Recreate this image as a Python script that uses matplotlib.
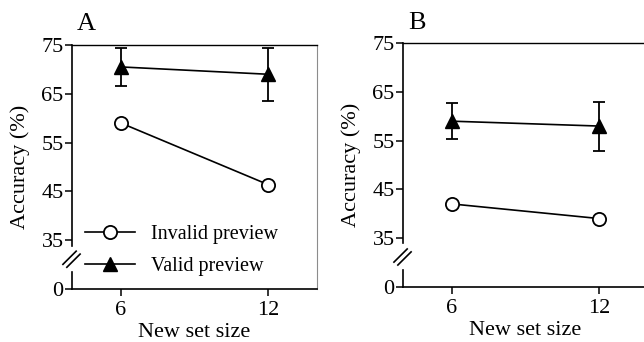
import numpy as np
import matplotlib
matplotlib.use('Agg')
import matplotlib.pyplot as plt

plt.rcParams['font.family'] = ['Liberation Serif', 'DejaVu Serif']

# Данные
set_size = [6, 12]
labels = ['Invalid preview', 'Valid preview']

a_invalid = [59.0, 46.4]
a_valid = [70.5, 69.0]
a_valid_lo = [66.5, 63.5]
a_valid_hi = [74.4, 74.4]

b_invalid = [42.0, 39.0]
b_valid = [59.0, 58.0]
b_valid_lo = [55.4, 52.9]
b_valid_hi = [62.7, 63.0]

ytick_vals = [0, 35, 45, 55, 65, 75]


# ось Y с разрывом: 0..35 сжато в 25..35
def fwd(y):
    y = np.asarray(y, dtype=float)
    return np.where(y >= 35, y, 25 + y * 10 / 35)


def inv(v):
    v = np.asarray(v, dtype=float)
    return np.where(v >= 35, v, (v - 25) * 3.5)


def panel(ax, letter, inval, val, lo, hi, legend=False, right_col='0.55'):
    ax.set_yscale('function', functions=(fwd, inv))
    ax.set_ylim(0, 75)
    ax.set_xlim(4, 14)
    err = [np.array(val) - np.array(lo), np.array(hi) - np.array(val)]
    ax.plot(set_size, inval, '-o', color='k', lw=1.2, ms=9.5,
            mfc='white', mec='k', mew=1.3, label=labels[0], zorder=3)
    ax.errorbar(set_size, val, yerr=err, fmt='none', ecolor='k',
                capsize=4, elinewidth=1.3, capthick=1.3, zorder=2)
    ax.plot(set_size, val, '-^', color='k', lw=1.2, ms=10, label=labels[1], zorder=3)
    ax.set_xticks(set_size)
    ax.set_yticks(ytick_vals)
    ax.set_yticklabels([str(v) for v in ytick_vals])
    ax.tick_params(axis='both', direction='out', length=5, width=1.1,
                   labelsize=16, pad=1)
    ax.tick_params(axis='x', pad=4)
    ax.set_xlabel('New set size', fontsize=16, labelpad=2)
    ax.set_ylabel('Accuracy (%)', fontsize=16, labelpad=8)
    ax.spines['left'].set_visible(False)
    ax.spines['bottom'].set_linewidth(1.2)
    ax.spines['top'].set_linewidth(1.0)
    ax.spines['right'].set_linewidth(0.8)
    ax.spines['right'].set_color(right_col)
    # левая ось с разрывом
    ax.plot([0, 0], [0.178, 1.0], color='k', lw=1.2, transform=ax.transAxes, clip_on=False)
    ax.plot([0, 0], [0.0, 0.07], color='k', lw=1.2, transform=ax.transAxes, clip_on=False)
    for dx, dy in [(-0.010, 0.128), (0.006, 0.116)]:
        ax.plot([dx - 0.027, dx + 0.027], [dy - 0.027, dy + 0.027], color='k', lw=1.2,
                transform=ax.transAxes, clip_on=False)
    ax.text(0.02, 1.04, letter, transform=ax.transAxes, fontsize=19, ha='left', va='bottom')
    if legend:
        ax.legend(loc='lower left', bbox_to_anchor=(0.02, 0.02), frameon=False,
                  fontsize=14.5, handlelength=2.5, handletextpad=0.8, labelspacing=0.62,
                  borderaxespad=0)


fig = plt.figure(figsize=(6.44, 3.42), dpi=100)
ax1 = fig.add_axes([0.1118, 0.155, 0.3804, 0.7135])
ax2 = fig.add_axes([0.6258, 0.1617, 0.3804, 0.7117])

panel(ax1, 'A', a_invalid, a_valid, a_valid_lo, a_valid_hi, legend=True)
panel(ax2, 'B', b_invalid, b_valid, b_valid_lo, b_valid_hi, right_col='k')

fig.savefig('out.png', dpi=100)
